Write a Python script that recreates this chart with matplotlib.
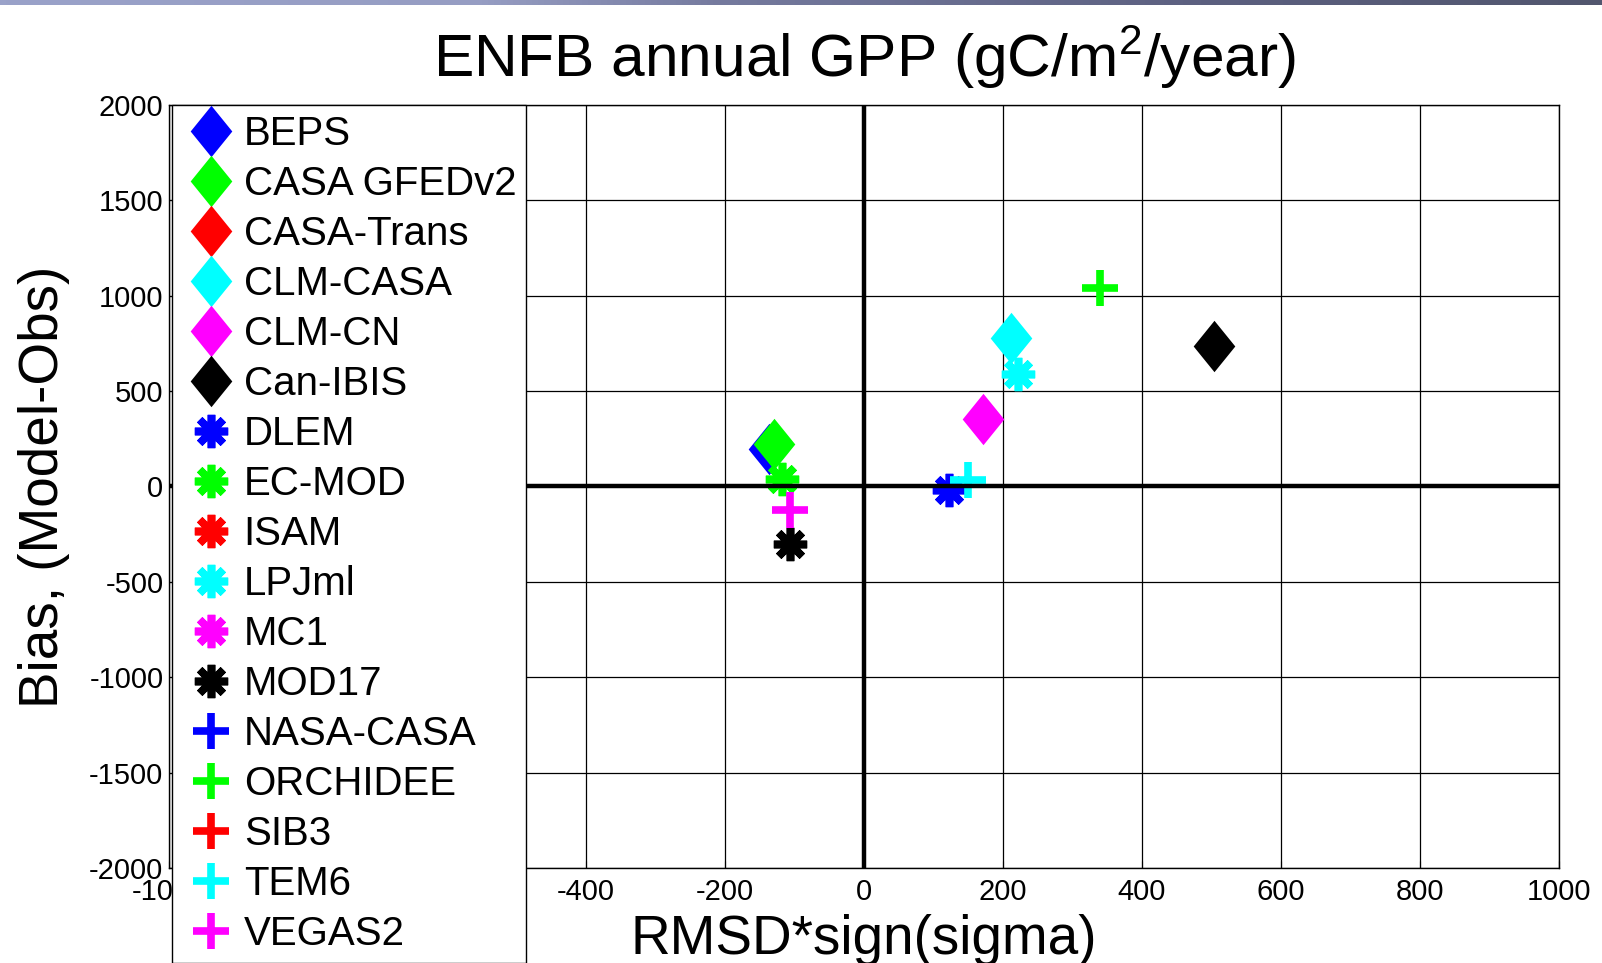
import numpy as np
import matplotlib
matplotlib.use("Agg")
import matplotlib.pyplot as plt
from matplotlib.colors import LinearSegmentedColormap

plt.rcParams['font.family'] = ['Liberation Sans', 'DejaVu Sans']
plt.rcParams['mathtext.fontset'] = 'custom'
plt.rcParams['mathtext.rm'] = 'Liberation Sans'
plt.rcParams['mathtext.it'] = 'Liberation Sans'
plt.rcParams['axes.unicode_minus'] = False

# model order as in the legend; NaN = no point shown
model_names = ["BEPS", "CASA GFEDv2", "CASA-Trans", "CLM-CASA", "CLM-CN", "Can-IBIS",
               "DLEM", "EC-MOD", "ISAM", "LPJml", "MC1", "MOD17",
               "NASA-CASA", "ORCHIDEE", "SIB3", "TEM6", "VEGAS2"]
rmsd_sign = [-136, -130, np.nan, 212, 171, 503,
             123, -118, np.nan, 222, np.nan, -106,
             np.nan, 339, np.nan, 150, -106]
bias = [198, 224, np.nan, 780, 355, 736,
        -17, 40, np.nan, 588, np.nan, -301,
        np.nan, 1041, np.nan, 33, -121]

colors = ["#0000ff", "#00ff00", "#ff0000", "#00ffff", "#ff00ff", "#000000"]
kinds = ["diamond"] * 6 + ["asterisk"] * 6 + ["plus"] * 5

x_ticks = np.arange(-1000, 1001, 200)
y_ticks = np.arange(-2000, 2001, 500)

diamond = [(0, 1), (0.81, 0), (0, -1), (-0.81, 0), (0, 1)]
style = {
    "diamond": dict(marker=diamond, markersize=37, markeredgewidth=0),
    "asterisk": dict(marker=(8, 2, 0), markersize=24, markeredgewidth=5.5),
    "plus": dict(marker="+", markersize=26, markeredgewidth=5.5),
}

fig = plt.figure(figsize=(16.02, 9.63), dpi=100)

# slide header strip
band = fig.add_axes([0, 1 - 5 / 963, 1, 5 / 963])
band_cmap = LinearSegmentedColormap.from_list(
    "band", [(0, "#9aa2c9"), (0.3, "#969dc3"), (0.45, "#757a9e"), (0.75, "#5c6080"), (1, "#52566e")])
band.imshow(np.linspace(0, 1, 256)[None, :], aspect="auto", cmap=band_cmap)
band.axis("off")

ax = fig.add_axes([169 / 1602, 1 - 868 / 963, 1390 / 1602, 763 / 963])

for i, name in enumerate(model_names):
    c = colors[i % 6]
    ax.plot([rmsd_sign[i]], [bias[i]], linestyle="none", color=c,
            markerfacecolor=c, markeredgecolor=c, label=name, zorder=3,
            **style[kinds[i]])

ax.axhline(0, color="k", lw=3.2, zorder=4)
ax.axvline(0, color="k", lw=3.2, zorder=4)

ax.set_xlim(-1000, 1000)
ax.set_ylim(-2000, 2000)
ax.set_xticks(x_ticks)
ax.set_yticks(y_ticks)
ax.grid(True, color="k", lw=0.9, ls="-")
ax.set_axisbelow(True)
ax.tick_params(direction="in", length=5, labelsize=21, colors="k")
ax.tick_params(axis="x", pad=7.5)
ax.tick_params(axis="y", pad=4)
for s in ax.spines.values():
    s.set_linewidth(1.0)

ax.set_title("ENFB annual GPP (gC/m$^2$/year)", fontsize=43.5, pad=20)
ax.set_xlabel("RMSD*sign(sigma)", fontsize=39.5)
ax.set_ylabel("Bias, (Model-Obs)", fontsize=39.5)
ax.xaxis.set_label_coords(0.5, -0.06)
ax.yaxis.set_label_coords(-0.071, 0.5)

leg = ax.legend(loc="upper left",
                bbox_to_anchor=(172 / 1602, 1 - 960 / 963, 354 / 1602, 855 / 963),
                bbox_transform=fig.transFigure, mode="expand", borderaxespad=0,
                fontsize=29, frameon=True, fancybox=False, framealpha=1, edgecolor="k",
                borderpad=0.255, handlelength=1.45, handletextpad=0.075,
                labelspacing=0.297, numpoints=1)
leg.get_frame().set_linewidth(1.0)

fig.savefig("out.png", dpi=100)
